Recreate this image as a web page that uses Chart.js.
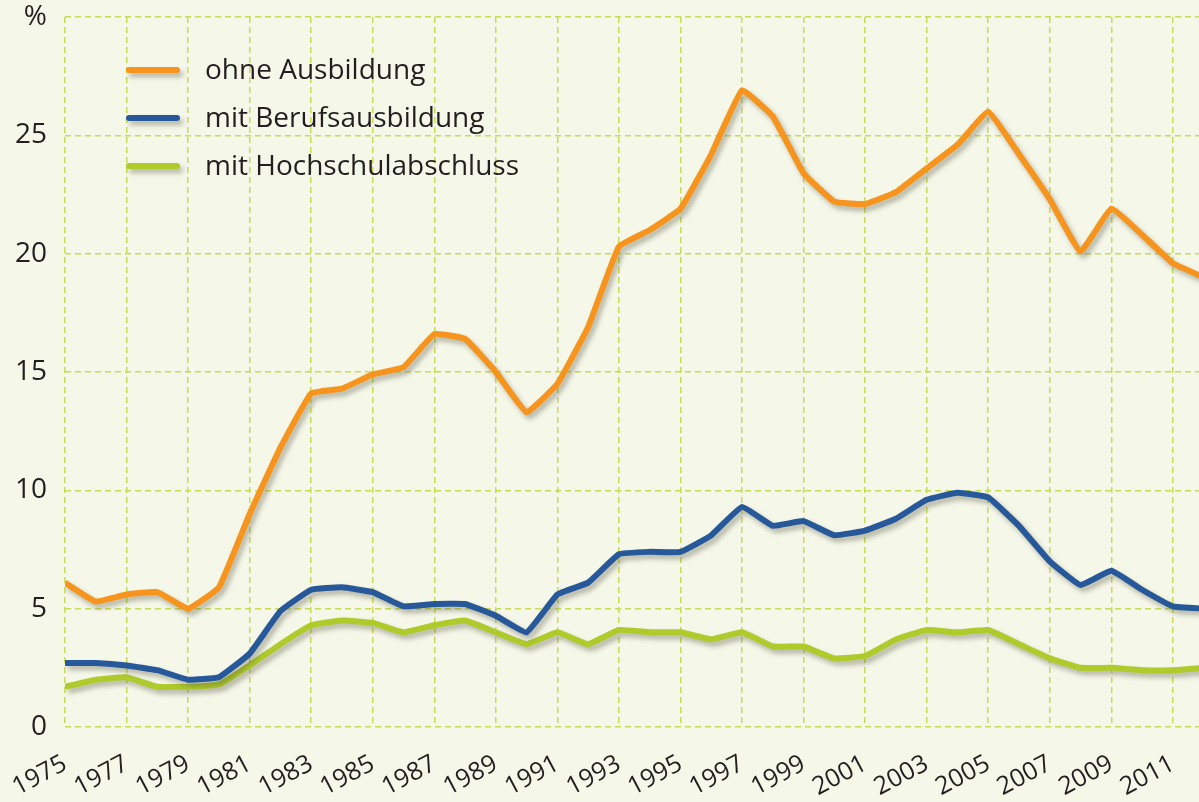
<!DOCTYPE html>
<html lang="de">
<head>
<meta charset="utf-8">
<script src="https://cdn.jsdelivr.net/npm/chart.js@4.4.1/dist/chart.umd.min.js"></script>
<style>
html, body { margin: 0; padding: 0; background: #f5f7e9; }
#wrap { width: 1199px; height: 802px; position: relative; }
</style>
</head>
<body>
<div id="wrap"><canvas id="chart"></canvas></div>
<script>
const years = [1975, 1976, 1977, 1978, 1979, 1980, 1981, 1982, 1983, 1984, 1985, 1986, 1987,
    1988, 1989, 1990, 1991, 1992, 1993, 1994, 1995, 1996, 1997, 1998, 1999, 2000, 2001,
    2002, 2003, 2004, 2005, 2006, 2007, 2008, 2009, 2010, 2011, 2012];

const ohneAusbildung = [6.1, 5.3, 5.6, 5.7, 5.0, 5.9, 9.0, 11.8, 14.1, 14.3, 14.9, 15.2, 16.6,
    16.4, 15.0, 13.3, 14.5, 16.9, 20.3, 21.0, 21.9, 24.2, 26.9, 25.8, 23.4, 22.2, 22.1,
    22.6, 23.6, 24.6, 26.0, 24.2, 22.3, 20.1, 21.9, 20.8, 19.6, 19.0];

const mitBerufsausbildung = [2.7, 2.7, 2.6, 2.4, 2.0, 2.1, 3.1, 4.9, 5.8, 5.9, 5.7, 5.1, 5.2,
    5.2, 4.7, 4.0, 5.6, 6.1, 7.3, 7.4, 7.4, 8.1, 9.3, 8.5, 8.7, 8.1, 8.3,
    8.8, 9.6, 9.9, 9.7, 8.5, 7.0, 6.0, 6.6, 5.8, 5.1, 5.0];

const mitHochschulabschluss = [1.7, 2.0, 2.1, 1.7, 1.7, 1.8, 2.6, 3.5, 4.3, 4.5, 4.4, 4.0, 4.3,
    4.5, 4.0, 3.5, 4.0, 3.5, 4.1, 4.0, 4.0, 3.7, 4.0, 3.4, 3.4, 2.9, 3.0,
    3.7, 4.1, 4.0, 4.1, 3.5, 2.9, 2.5, 2.5, 2.4, 2.4, 2.5];

const seriesLabels = ['ohne Ausbildung', 'mit Berufsausbildung', 'mit Hochschulabschluss'];
const seriesColors = ['#f7941d', '#27599a', '#afca2b'];

const xTickYears = [1975, 1977, 1979, 1981, 1983, 1985, 1987, 1989, 1991, 1993,
    1995, 1997, 1999, 2001, 2003, 2005, 2007, 2009, 2011];
const yTickLabels = ['0', '5', '10', '15', '20', '25', '%'];

const FONT = '"Open Sans", "DejaVu Sans", sans-serif';
const TEXT = '#231f20';
const GRID = '#c9dc55';

function toPoints(values) {
    return values.map((v, i) => ({ x: years[i], y: v }));
}

function setShadow(c) {
    c.shadowColor = 'rgba(70, 70, 50, 0.38)';
    c.shadowBlur = 5;
    c.shadowOffsetX = 3;
    c.shadowOffsetY = 4;
}

const lineShadow = {
    id: 'lineShadow',
    beforeDatasetDraw(chart) {
        chart.ctx.save();
        setShadow(chart.ctx);
    },
    afterDatasetDraw(chart) {
        chart.ctx.restore();
    }
};

// legend sits inside the plot, top left
const insideLegend = {
    id: 'insideLegend',
    afterDatasetsDraw(chart, args, opts) {
        const c = chart.ctx;
        chart.data.datasets.forEach((ds, i) => {
            const y = opts.top + i * opts.rowGap;
            c.save();
            setShadow(c);
            c.strokeStyle = ds.borderColor;
            c.lineWidth = 6;
            c.lineCap = 'round';
            c.beginPath();
            c.moveTo(opts.x, y);
            c.lineTo(opts.x + opts.lineLen, y);
            c.stroke();
            c.restore();

            c.save();
            c.fillStyle = TEXT;
            c.font = opts.font;
            c.textBaseline = 'middle';
            c.fillText(ds.label, opts.textX, y + 1);
            c.restore();
        });
    }
};

const ctx = document.getElementById('chart').getContext('2d');

new Chart(ctx, {
    type: 'line',
    data: {
        datasets: [
            { label: seriesLabels[0], data: toPoints(ohneAusbildung), borderColor: seriesColors[0] },
            { label: seriesLabels[1], data: toPoints(mitBerufsausbildung), borderColor: seriesColors[1] },
            { label: seriesLabels[2], data: toPoints(mitHochschulabschluss), borderColor: seriesColors[2] }
        ]
    },
    options: {
        responsive: true,
        maintainAspectRatio: false,
        animation: false,
        layout: { padding: { top: 17, right: 0, left: 0, bottom: 0 } },
        elements: {
            line: { borderWidth: 6, tension: 0.1, borderJoinStyle: 'round', borderCapStyle: 'butt', fill: false },
            point: { radius: 0, hoverRadius: 0 }
        },
        scales: {
            x: {
                type: 'linear',
                min: 1975,
                max: 2011.85,
                afterBuildTicks: axis => { axis.ticks = xTickYears.map(v => ({ value: v })); },
                afterFit: axis => {
                    axis.height = 75;
                    axis.paddingLeft = 0;
                    axis.paddingRight = 0;
                },
                grid: { color: GRID, lineWidth: 1.5, drawTicks: false },
                border: { display: false, dash: [6, 4] },
                ticks: {
                    minRotation: 28,
                    maxRotation: 28,
                    padding: 22,
                    autoSkip: false,
                    color: TEXT,
                    font: { family: FONT, size: 25 },
                    callback: v => String(v)
                }
            },
            y: {
                min: 0,
                max: 30,
                afterFit: axis => {
                    axis.width = 65;
                    axis.paddingTop = 0;
                    axis.paddingBottom = 0;
                },
                grid: { color: GRID, lineWidth: 1.5, drawTicks: false },
                border: { display: false, dash: [6, 4] },
                ticks: {
                    stepSize: 5,
                    padding: 18,
                    color: TEXT,
                    font: { family: FONT, size: 28 },
                    callback: (v, i) => yTickLabels[i]
                }
            }
        },
        plugins: {
            legend: { display: false },
            tooltip: { enabled: false },
            insideLegend: {
                x: 129, lineLen: 48, textX: 205, top: 70, rowGap: 48,
                font: '28px ' + FONT
            }
        }
    },
    plugins: [lineShadow, insideLegend]
});
</script>
</body>
</html>
